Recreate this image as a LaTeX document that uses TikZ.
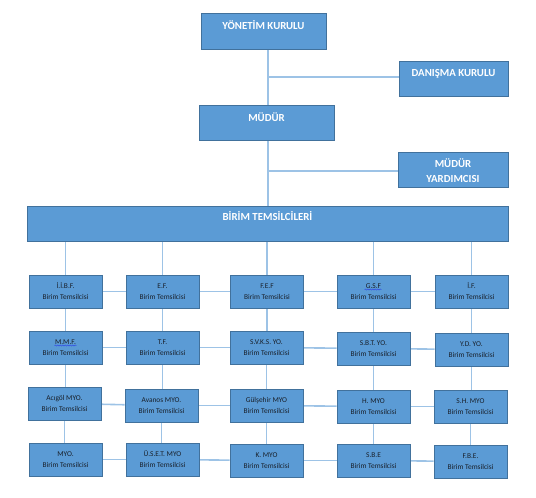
\documentclass[tikz,border=0pt]{standalone}
\usepackage{fontspec}
\setmainfont{Carlito}
\usetikzlibrary{backgrounds,calc,decorations.pathmorphing}
\definecolor{boxfill}{RGB}{91,155,213}
\definecolor{boxedge}{RGB}{65,113,156}
\definecolor{linkc}{RGB}{157,195,230}
\definecolor{smalltext}{RGB}{25,32,42}
\definecolor{squig}{RGB}{40,60,230}
\begin{document}
\begin{tikzpicture}[x=1pt,y=-1pt,
  bigbox/.style={draw=boxedge,line width=0.8pt,fill=boxfill,inner sep=0pt},
  bigtext/.style={text=white,font=\bfseries\fontsize{10.8}{14.5}\selectfont,inner sep=0pt,align=center},
  unitbox/.style={draw=boxedge,line width=0.8pt,fill=boxfill,minimum width=73pt,minimum height=33pt,inner sep=0pt,align=center,text=smalltext,font=\fontsize{7.4}{11}\selectfont},
  link/.style={draw=linkc,line width=1.6pt},
  wavy/.style={draw=squig,line width=0.4pt,decorate,decoration={snake,amplitude=0.6pt,segment length=2.5pt}}]
\useasboundingbox (0,0) rectangle (536,498);
% top boxes
\node[bigbox,minimum width=125pt,minimum height=36pt] (yk) at (263.5,31) {};
\node[bigtext] (ykt) at (263.5,25) {YÖNETİM KURULU};
\node[bigbox,minimum width=109pt,minimum height=35pt] (dk) at (453.5,78.5) {};
\node[bigtext] (dkt) at (453.5,74) {DANIŞMA KURULU};
\node[bigbox,minimum width=135pt,minimum height=35pt] (md) at (266.5,122.5) {};
\node[bigtext] (mdt) at (266.5,117) {MÜDÜR};
\node[bigbox,minimum width=110pt,minimum height=35pt] (my) at (453,169.5) {};
\node[bigtext] (myt) at (453,170.5) {MÜDÜR\\YARDIMCISI};
\node[bigbox,minimum width=481pt,minimum height=35pt] (bt) at (267.5,223.5) {};
\node[bigtext] (btt) at (267.5,216.5) {BİRİM TEMSİLCİLERİ};
% unit boxes
\node[unitbox] (a1) at (65.5,291.5) {İ.İ.B.F.\\Birim Temsilcisi};
\node[unitbox] (b1) at (162.5,291.5) {E.F.\\Birim Temsilcisi};
\node[unitbox] (c1) at (267,291.5) {F.E.F\\Birim Temsilcisi};
\node[unitbox] (d1) at (373.5,291.5) {G.S.F\\Birim Temsilcisi};
\node[unitbox] (e1) at (471.5,291.5) {İ.F.\\Birim Temsilcisi};
\node[unitbox] (a2) at (65.5,347.5) {M.M.F.\\Birim Temsilcisi};
\node[unitbox] (b2) at (162.5,347.5) {T.F.\\Birim Temsilcisi};
\node[unitbox] (c2) at (266.5,347.5) {S.V.K.S. YO.\\Birim Temsilcisi};
\node[unitbox] (d2) at (373.5,348.5) {S.B.T. YO.\\Birim Temsilcisi};
\node[unitbox] (e2) at (471.5,349.5) {Y.D. YO.\\Birim Temsilcisi};
\node[unitbox] (a3) at (64.5,403.5) {Acıgöl MYO.\\Birim Temsilcisi};
\node[unitbox] (b3) at (161.5,405.5) {Avanos MYO.\\Birim Temsilcisi};
\node[unitbox] (c3) at (266.5,405.5) {Gülşehir MYO\\Birim Temsilcisi};
\node[unitbox] (d3) at (373.5,406.5) {H. MYO\\Birim Temsilcisi};
\node[unitbox] (e3) at (470.5,406.5) {S.H. MYO\\Birim Temsilcisi};
\node[unitbox] (a4) at (65.5,459.5) {MYO.\\Birim Temsilcisi};
\node[unitbox] (b4) at (162.5,459.5) {Ü.S.E.T. MYO\\Birim Temsilcisi};
\node[unitbox] (c4) at (266.5,460.5) {K. MYO\\Birim Temsilcisi};
\node[unitbox] (d4) at (373.5,460.5) {S.B.E\\Birim Temsilcisi};
\node[unitbox] (e4) at (470.5,461.5) {F.B.E.\\Birim Temsilcisi};
% spell-check squiggles
\draw[wavy] ($(a2.center)+(-11,-2)$) -- ($(a2.center)+(11,-2)$);
\draw[wavy] ($(d1.center)+(-9,-2)$) -- ($(d1.center)+(8,-2)$);
\begin{scope}[on background layer]
  \coordinate (j1) at (268,77);
  \coordinate (j2) at (268,171);
  \draw[link] (j1 |- yk.south) -- (j1 |- md.north);
  \draw[link] (j1) -- (j1 -| dk.west);
  \draw[link] (j2 |- md.south) -- (j2 |- bt.north);
  \draw[link] (j2) -- (j2 -| my.west);
  \foreach \n in {a1,b1,c1,d1,e1} \draw[link] (bt.south -| \n.north) -- (\n.north);
  \foreach \r in {1,2,3,4} {
    \draw[link] (a\r) -- (b\r);
    \draw[link] (b\r) -- (c\r);
    \draw[link] (c\r) -- (d\r);
    \draw[link] (d\r) -- (e\r);
  }
  \foreach \c in {a,b,c,d,e} {
    \draw[link] (\c1.south) -- (\c1.south |- \c2.north);
    \draw[link] (\c2.south) -- (\c2.south |- \c3.north);
    \draw[link] (\c3.south) -- (\c3.south |- \c4.north);
  }
\end{scope}
\end{tikzpicture}
\end{document}
